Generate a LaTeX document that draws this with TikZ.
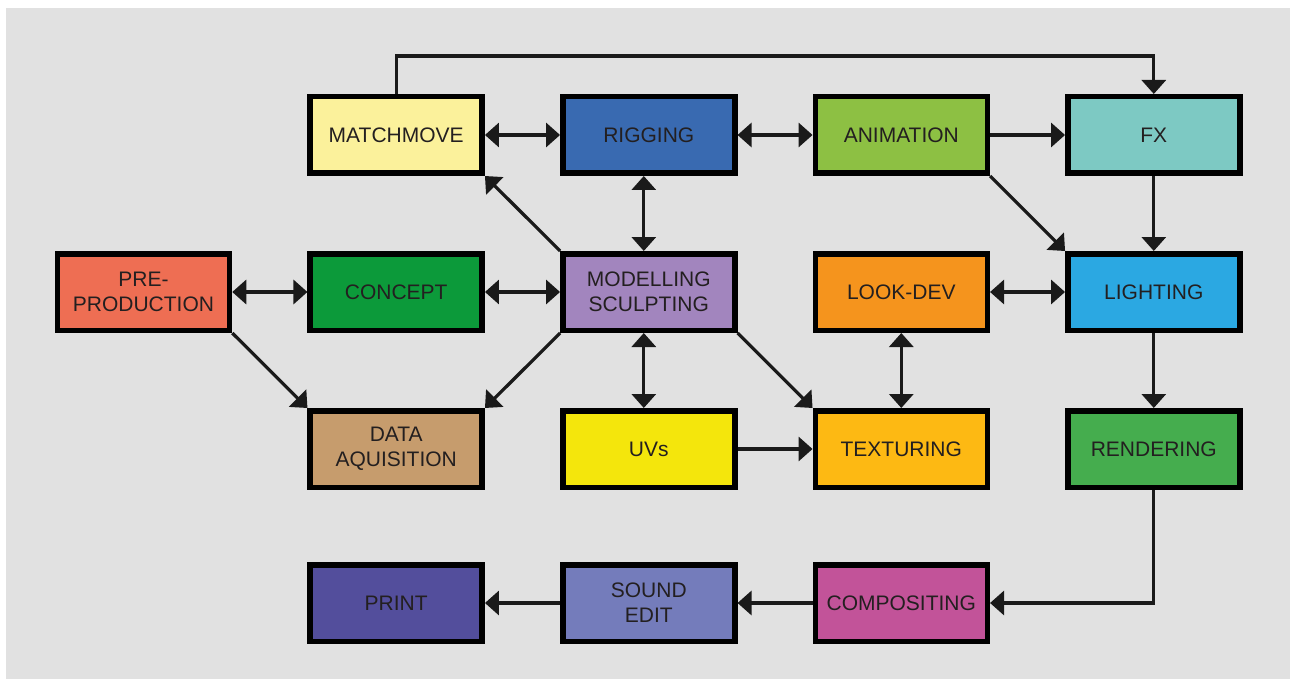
\documentclass[tikz,border=0pt]{standalone}
\usepackage{fontspec}
\setmainfont{Liberation Sans}
\usetikzlibrary{arrows.meta}
\definecolor{bggray}{HTML}{E1E1E1}
\definecolor{ink}{HTML}{1A1A1A}
\definecolor{txt}{HTML}{231F20}
\definecolor{cMatch}{HTML}{FBF19B}
\definecolor{cRig}{HTML}{396AB1}
\definecolor{cAnim}{HTML}{8DC043}
\definecolor{cFx}{HTML}{7DC9C3}
\definecolor{cPre}{HTML}{EE6E53}
\definecolor{cConcept}{HTML}{0C9A3A}
\definecolor{cMod}{HTML}{A285BE}
\definecolor{cLook}{HTML}{F5941D}
\definecolor{cLight}{HTML}{2BA8E2}
\definecolor{cData}{HTML}{C69C6D}
\definecolor{cUV}{HTML}{F4E60C}
\definecolor{cTex}{HTML}{FDB913}
\definecolor{cRender}{HTML}{45AD4E}
\definecolor{cPrint}{HTML}{534E9C}
\definecolor{cSound}{HTML}{747CBB}
\definecolor{cComp}{HTML}{C25399}
\tikzset{
  stagebox/.style={draw=black, line width=5.5pt, minimum width=172pt, minimum height=76.5pt,
    inner sep=0pt, align=center, text=txt, font=\fontsize{21}{25}\selectfont},
  arr/.style={draw=ink, line width=3.2pt, -{Triangle[length=14pt,width=24pt]}},
  darr/.style={draw=ink, line width=3.2pt, {Triangle[length=14pt,width=24pt]}-{Triangle[length=14pt,width=24pt]}},
  plain/.style={draw=ink, line width=3.2pt}
}
\begin{document}
\begin{tikzpicture}[x=1pt,y=-1pt]
\useasboundingbox (0,0) rectangle (1290,679);
\fill[white] (0,0) rectangle (1290,679);
\fill[bggray] (6,8) rectangle (1290,679);
% row 0
\node[stagebox, fill=cMatch] (mm) at (396.2,135) {MATCHMOVE};
\node[stagebox, fill=cRig] (rig) at (648.8,135) {RIGGING};
\node[stagebox, fill=cAnim] (anim) at (901.3,135) {ANIMATION};
\node[stagebox, fill=cFx] (fx) at (1153.8,135) {FX};
% row 1
\node[stagebox, fill=cPre] (pre) at (143.5,292) {PRE-\\PRODUCTION};
\node[stagebox, fill=cConcept] (con) at (396.2,292) {CONCEPT};
\node[stagebox, fill=cMod] (mod) at (648.8,292) {MODELLING\\SCULPTING};
\node[stagebox, fill=cLook] (look) at (901.3,292) {LOOK-DEV};
\node[stagebox, fill=cLight] (light) at (1153.8,292) {LIGHTING};
% row 2
\node[stagebox, fill=cData] (data) at (396.2,449) {DATA\\AQUISITION};
\node[stagebox, fill=cUV] (uv) at (648.8,449) {UVs};
\node[stagebox, fill=cTex] (tex) at (901.3,449) {TEXTURING};
\node[stagebox, fill=cRender] (ren) at (1153.8,449) {RENDERING};
% row 3
\node[stagebox, fill=cPrint] (print) at (396.2,603) {PRINT};
\node[stagebox, fill=cSound] (sound) at (648.8,603) {SOUND\\EDIT};
\node[stagebox, fill=cComp] (comp) at (901.3,603) {COMPOSITING};
% connectors
\coordinate (topy) at (0,56);
\draw[arr] (mm.north) -- (mm.north |- topy) -| (fx.north);
\draw[darr] (mm.east) -- (rig.west);
\draw[darr] (rig.east) -- (anim.west);
\draw[arr] (anim.east) -- (fx.west);
\draw[arr] (mod.north west) -- (mm.south east);
\draw[darr] ([xshift=-5pt]rig.south) -- ([xshift=-5pt]mod.north);
\draw[arr] (anim.south east) -- (light.north west);
\draw[arr] (fx.south) -- (light.north);
\draw[darr] (pre.east) -- (con.west);
\draw[darr] (con.east) -- (mod.west);
\draw[darr] (look.east) -- (light.west);
\draw[arr] (pre.south east) -- (data.north west);
\draw[arr] (mod.south west) -- (data.north east);
\draw[darr] ([xshift=-5pt]mod.south) -- ([xshift=-5pt]uv.north);
\draw[arr] (mod.south east) -- (tex.north west);
\draw[darr] (look.south) -- (tex.north);
\draw[arr] (uv.east) -- (tex.west);
\draw[arr] (light.south) -- (ren.north);
\draw[arr] (ren.south) |- (comp.east);
\draw[arr] (comp.west) -- (sound.east);
\draw[arr] (sound.west) -- (print.east);
\end{tikzpicture}
\end{document}
